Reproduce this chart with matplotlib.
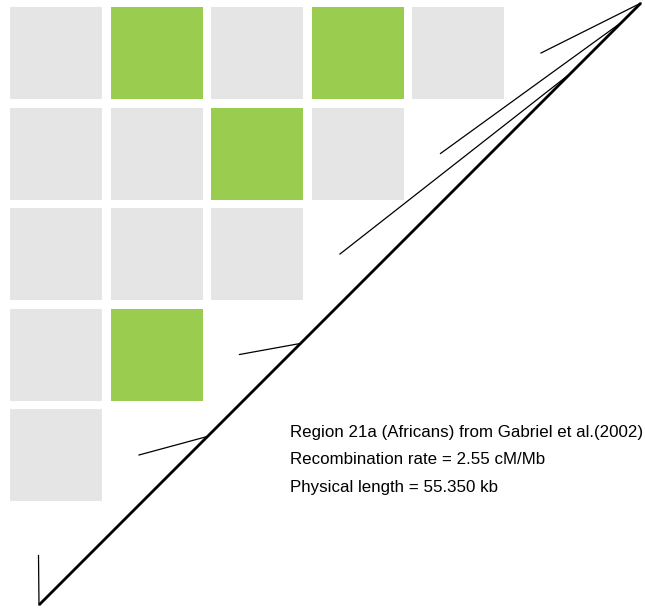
"""Gabriel et al. region 21a: LD block grid with SNP positions along the haplotype axis."""
import numpy as np
import matplotlib
matplotlib.use("Agg")
import matplotlib.pyplot as plt
from matplotlib.patches import Rectangle

# significance of each marker pair (1 = green), row r has 5 - r cells
ld_rows = [
    [0, 1, 0, 1, 0],
    [0, 0, 1, 0],
    [0, 0, 0],
    [0, 1],
    [0],
]
snp_pos_kb = [0.0, 15.5, 24.05, 48.9, 53.6, 55.35]
physical_length_kb = 55.35
recomb_rate = 2.55
caption = [
    "Region 21a (Africans) from Gabriel et al.(2002)",
    "Recombination rate = %.2f cM/Mb" % recomb_rate,
    "Physical length = %.3f kb" % physical_length_kb,
]

GRAY = "#e5e5e5"
GREEN = "#9acd4f"

# layout (pixel space)
W, H = 645, 614
PITCH = 100.5
CELL = 92
X0, Y0 = 10, 7
DIAG_START = np.array([39.0, 605.0])
DIAG_END = np.array([641.0, 3.0])
ANCHOR0 = np.array([38.5, 555.5])

fig = plt.figure(figsize=(W / 100, H / 100), dpi=100)
ax = fig.add_axes([0, 0, 1, 1])
ax.set_xlim(0, W)
ax.set_ylim(H, 0)
ax.axis("off")

for r, row in enumerate(ld_rows):
    for c, v in enumerate(row):
        ax.add_patch(Rectangle((X0 + c * PITCH, Y0 + r * PITCH), CELL, CELL,
                               facecolor=GREEN if v else GRAY, edgecolor="none"))

# haplotype axis
ax.plot([DIAG_START[0], DIAG_END[0]], [DIAG_START[1], DIAG_END[1]],
        color="black", lw=2.0, solid_capstyle="butt")

# connector from each SNP's grid anchor to its position on the axis
for k, pos in enumerate(snp_pos_kb):
    t = pos / physical_length_kb
    p = DIAG_START + t * (DIAG_END - DIAG_START)
    a = ANCHOR0 + np.array([k * PITCH, -k * PITCH])
    ax.plot([a[0], p[0]], [a[1], p[1]], color="black", lw=0.9)

for i, line in enumerate(caption):
    ax.text(290, 437 + i * 27.3, line, fontsize=12.2, va="baseline", ha="left",
            family=["Liberation Sans", "DejaVu Sans"])

fig.savefig("out.png", dpi=100)
